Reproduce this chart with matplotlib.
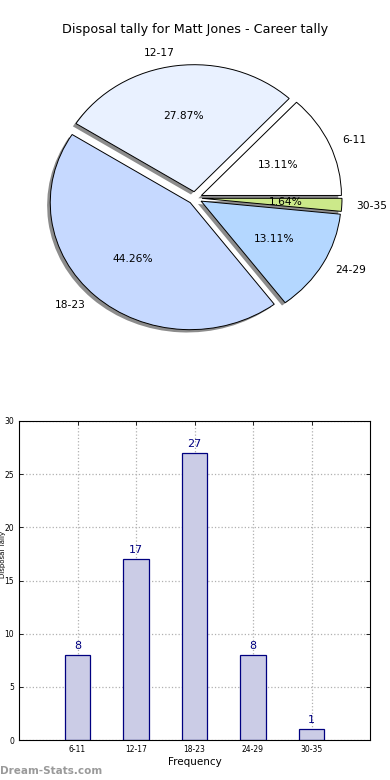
import matplotlib
matplotlib.use("Agg")
import matplotlib.pyplot as plt

categories = ["6-11", "12-17", "18-23", "24-29", "30-35"]
counts = [8, 17, 27, 8, 1]
pie_colors = ["#ffffff", "#e9f1ff", "#c6d9ff", "#b4d7ff", "#cce98a"]
title = "Disposal tally for Matt Jones - Career tally"

fig = plt.figure(figsize=(3.9, 7.8), dpi=100)
W, H = 390.0, 780.0

# ---- Pie ----
cx, cy, rx, ry = 195.0, 198.0, 140.0, 127.0
lim = 1.25
axp = fig.add_axes([(cx - lim * rx) / W, 1 - (cy + lim * ry) / H,
                    2 * lim * rx / W, 2 * lim * ry / H])
wedges, texts, autotexts = axp.pie(
    counts, labels=categories, colors=pie_colors, explode=[0.05] * 5,
    autopct="%.2f%%", startangle=0,
    shadow=dict(ox=-0.016, oy=-0.016, facecolor="#8c8c8c", edgecolor="none", alpha=1.0),
    wedgeprops=dict(edgecolor="black", linewidth=0.7),
    textprops=dict(fontsize=7.7))
axp.set_aspect("auto")
axp.set_xlim(-lim, lim)
axp.set_ylim(-lim, lim)
fig.text(0.5, 1 - 30 / H, title, ha="center", va="center", fontsize=9.2)

# ---- Bar ----
axb = fig.add_axes([19 / W, 1 - 740 / H, (370 - 19) / W, (740 - 421) / H])
x = list(range(len(categories)))
axb.bar(x, counts, width=0.44, color="#cbcce6", edgecolor="#000080", linewidth=0.9, zorder=2)
for xi, v in zip(x, counts):
    axb.text(xi, v + 0.4, str(v), ha="center", va="bottom", color="#000080", fontsize=8)
axb.set_xlim(-1, 5)
axb.set_ylim(0, 30)
axb.set_xticks(x)
axb.set_xticklabels(categories)
axb.set_yticks(range(0, 31, 5))
axb.tick_params(labelsize=5.5, direction="in", top=True, right=True, length=3, width=0.6)
axb.grid(True, linestyle=":", color="#b0b0b0", linewidth=0.9)
axb.set_axisbelow(True)
axb.set_xlabel("Frequency", fontsize=7.5, labelpad=2)
axb.set_ylabel("Disposal Tally", fontsize=5)
axb.yaxis.set_label_coords(-0.037, 0.583)

fig.text(0.0, 1 - 771 / H, "Dream-Stats.com", ha="left", va="center", fontsize=7.5,
         color="#9a9a9a", fontweight="bold")

fig.savefig("out.png", dpi=100)
